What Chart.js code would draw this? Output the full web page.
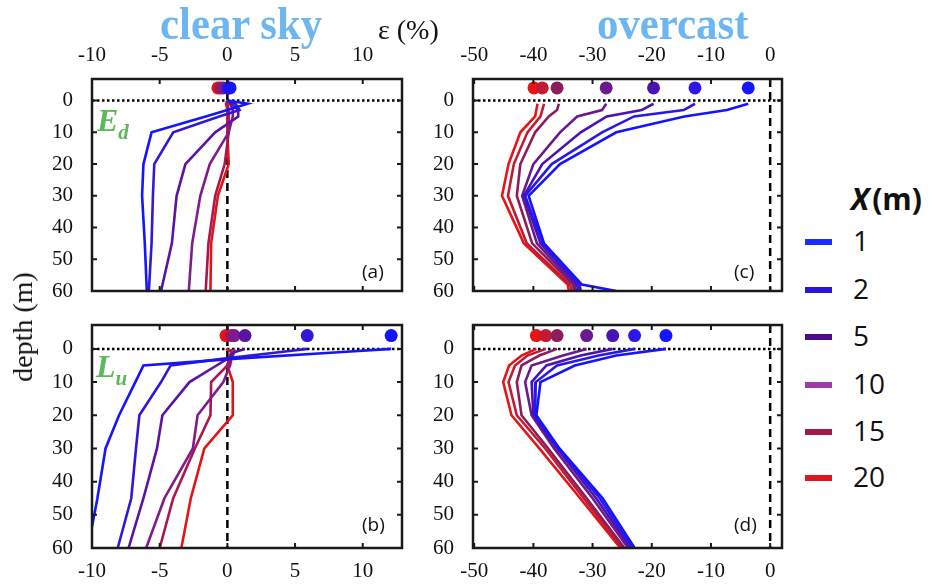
<!DOCTYPE html>
<html><head><meta charset="utf-8">
<script src="https://cdn.jsdelivr.net/npm/chart.js@4.4.0/dist/chart.umd.min.js"></script>
<style>
html,body{margin:0;padding:0;background:#fff}
body{width:933px;height:584px;position:relative;overflow:hidden}
.w{position:absolute}
.t{position:absolute;white-space:nowrap;line-height:1}
.title{font-family:"Liberation Serif",serif;font-weight:bold;font-size:42px;color:#6db6f0;transform-origin:left top;transform:scale(1.02,1.08)}
.pl{font-family:"Open Sans",sans-serif;font-size:19px;color:#111}
.q{font-family:"Liberation Serif",serif;font-style:italic;font-weight:bold;color:#5cb85c}
.leg{position:absolute;left:805px}
.sw{position:absolute;left:0;width:27px;height:6px}
.ll{position:absolute;left:48px;font-family:"Open Sans",sans-serif;font-size:28px;line-height:1;color:#111}
</style></head><body>

<div class="w" id="wa"><canvas id="ca"></canvas></div>
<div class="w" id="wb"><canvas id="cb"></canvas></div>
<div class="w" id="wc"><canvas id="cc"></canvas></div>
<div class="w" id="wd"><canvas id="cd"></canvas></div>

<div class="t title" style="left:160px;top:1px">clear sky</div>
<div class="t title" style="left:597px;top:1px">overcast</div>
<div class="t" style="left:378px;top:16px;font-family:'Liberation Serif',serif;font-size:28px;color:#111">ε (%)</div>
<div class="t" style="left:23px;top:327px;transform:translate(-50%,-50%) rotate(-90deg);font-family:'Liberation Serif',serif;font-size:28px;color:#111">depth (m)</div>
<div class="t q" style="left:97px;top:104px;font-size:32px">E<span style="font-size:21px;position:relative;top:8px">d</span></div>
<div class="t q" style="left:96px;top:350px;font-size:32px">L<span style="font-size:21px;position:relative;top:8px">u</span></div>
<div class="t pl" style="left:362px;top:262px">(a)</div>
<div class="t pl" style="left:362px;top:515px">(b)</div>
<div class="t pl" style="left:734px;top:262px">(c)</div>
<div class="t pl" style="left:734px;top:515px">(d)</div>
<div id="legend"></div>

<script>
// ---------- categories ----------
const legendLabels = ['1', '2', '5', '10', '15', '20'];
const legendColors = ['#1a2cff', '#2c14d8', '#4a0c88', '#9c3ca4', '#a01a4a', '#e0141c'];
const clearColors = ['#1414ff', '#3018d8', '#5a14a4', '#7e1c8c', '#a81850', '#e41414'];
const overcastColors = ['#1414ff', '#2c18e6', '#4a14b4', '#6a1a8c', '#8c1c5c', '#c01a34', '#e81414'];

// ---------- tick labels ----------
const depthTicks = [0, 10, 20, 30, 40, 50, 60];
const clearTicks = [-10, -5, 0, 5, 10];
const overcastTicks = [-50, -40, -30, -20, -10, 0];

// ---------- depths (m) ----------
const depthsClear = [0, 1, 3, 5, 10, 20, 30, 45, 60];
const depthsEdOvercast = [1, 3, 5, 10, 20, 30, 45, 58, 60];
const depthsLuOvercast = [0, 2, 5, 10, 20, 30, 45, 60];
const dotDepth = -4;

// ---------- (a) Ed, clear sky: epsilon (%) per X ----------
const edClearX1  = [0, 1.5, 0.0, -1.6, -5.6, -6.2, -6.3, -6.1, -5.95];
const edClearX2  = [0, 0.6, 0.9, -0.6, -4.0, -5.4, -5.5, -5.6, -5.8];
const edClearX5  = [0, 0.3, 0.8, 0.8, -0.9, -3.1, -3.75, -4.1, -4.9];
const edClearX10 = [0, 0.2, 0.4, 0.4, 0.1, -1.3, -2.0, -2.6, -2.85];
const edClearX15 = [0, 0.0, 0.1, 0.1, 0.1, -0.2, -0.9, -1.4, -1.6];
const edClearX20 = [0, -0.1, 0.0, 0.0, 0.0, 0.1, -0.7, -1.2, -1.25];
const edClearSurface = [0.2, 0.1, 0.0, -0.3, -0.5, -0.7];

// ---------- (b) Lu, clear sky ----------
const luClearX1  = [12.1, 8.2, 0.4, -6.2, -6.8, -8.0, -9.0, -9.6, -10.3];
const luClearX2  = [5.9, 3.8, -0.4, -4.2, -4.9, -6.5, -6.75, -7.1, -8.1];
const luClearX5  = [1.3, 0.5, 0.0, -0.8, -2.8, -4.8, -5.2, -6.2, -7.3];
const luClearX10 = [0.5, 0.5, 0.3, 0.2, -0.3, -2.2, -2.55, -4.65, -6.0];
const luClearX15 = [0.3, 0.3, 0.2, 0.0, -1.2, -1.25, -2.4, -4.0, -5.0];
const luClearX20 = [-0.1, 0.3, 0.1, 0.0, 0.4, 0.4, -1.7, -2.7, -3.4];
const luClearSurface = [12.1, 5.9, 1.3, 0.5, 0.3, -0.1];

// ---------- (c) Ed, overcast ----------
const edOverS1 = [-3.7, -7.3, -14.5, -26.0, -35.5, -40.8, -38.2, -31.8, -26.0];
const edOverS2 = [-12.7, -14.6, -23.0, -28.4, -36.9, -41.4, -38.4, -32.2, -32.0];
const edOverS3 = [-19.7, -21.7, -27.6, -32.0, -38.5, -41.6, -38.8, -32.6, -32.4];
const edOverS4 = [-27.7, -28.4, -32.6, -35.5, -40.0, -41.9, -39.4, -33.0, -32.8];
const edOverS5 = [-35.7, -36.0, -37.4, -39.7, -42.2, -42.8, -40.2, -33.3, -33.1];
const edOverS6 = [-38.2, -38.5, -38.8, -41.0, -43.3, -44.3, -41.1, -33.8, -33.5];
const edOverS7 = [-39.3, -39.5, -39.7, -42.2, -44.2, -45.3, -41.6, -34.2, -34.0];
const edOverSurface = [-3.7, -12.7, -19.7, -27.7, -36.0, -38.5, -39.9];

// ---------- (d) Lu, overcast ----------
const luOverS1 = [-17.6, -26.0, -33.0, -38.8, -39.5, -35.6, -28.3, -22.9];
const luOverS2 = [-22.9, -29.0, -36.0, -39.6, -39.7, -35.8, -28.8, -23.3];
const luOverS3 = [-26.6, -32.0, -37.8, -40.3, -40.0, -36.0, -29.4, -23.6];
const luOverS4 = [-31.0, -35.0, -40.3, -41.4, -40.3, -36.5, -30.0, -24.0];
const luOverS5 = [-36.0, -39.0, -42.0, -42.8, -42.0, -37.5, -31.0, -24.6];
const luOverS6 = [-37.9, -41.0, -43.1, -44.2, -42.8, -38.0, -31.5, -25.0];
const luOverS7 = [-39.5, -42.0, -44.1, -45.1, -43.7, -39.0, -32.1, -25.3];
const luOverSurface = [-17.6, -22.9, -26.6, -31.0, -36.0, -37.9, -39.5];

// ---------- drawing ----------
const frame = {
  id: 'frame',
  beforeDatasetsDraw(chart) {
    const {ctx, chartArea: a, scales: {x, y}} = chart;
    ctx.save();
    ctx.beginPath(); ctx.rect(a.left, a.top, a.width, a.height); ctx.clip();
    ctx.strokeStyle = '#000';
    ctx.lineWidth = 2.5; ctx.setLineDash([2.5, 2.5]);
    const y0 = y.getPixelForValue(0);
    ctx.beginPath(); ctx.moveTo(a.left, y0); ctx.lineTo(a.right, y0); ctx.stroke();
    ctx.lineWidth = 2.5; ctx.setLineDash([8, 5]);
    const x0 = x.getPixelForValue(0);
    ctx.beginPath(); ctx.moveTo(x0, a.top); ctx.lineTo(x0, a.bottom); ctx.stroke();
    ctx.restore();
  },
  afterDraw(chart) {
    const {ctx, chartArea: a, scales: {x, y}} = chart;
    ctx.save();
    ctx.strokeStyle = '#1a1a1a'; ctx.setLineDash([]); ctx.lineWidth = 2;
    ctx.beginPath();
    x.ticks.forEach(t => { const p = x.getPixelForValue(t.value);
      ctx.moveTo(p, a.top); ctx.lineTo(p, a.top + 5); ctx.moveTo(p, a.bottom); ctx.lineTo(p, a.bottom - 5); });
    y.ticks.forEach(t => { const p = y.getPixelForValue(t.value);
      ctx.moveTo(a.left, p); ctx.lineTo(a.left + 5, p); ctx.moveTo(a.right, p); ctx.lineTo(a.right - 5, p); });
    ctx.stroke();
    ctx.lineWidth = 2.5;
    ctx.strokeRect(a.left, a.top, a.width, a.height);
    ctx.restore();
  }
};

function panel(id, plot, isTop, xMin, xMax, xTicks, yMin, depths, series, colors, surface) {
  const leftM = 60, rightM = 20, axisH = 45, otherM = 36;
  const W = plot.r - plot.l, H = plot.b - plot.t;
  const cw = W + leftM + rightM, ch = H + axisH + otherM;
  const wrap = document.getElementById('w' + id);
  wrap.style.left = (plot.l - leftM) + 'px';
  wrap.style.top = (isTop ? plot.t - axisH : plot.t - otherM) + 'px';
  const cv = document.getElementById('c' + id);
  cv.width = cw; cv.height = ch; cv.style.width = cw + 'px'; cv.style.height = ch + 'px';

  const dotIdx = surface.map((v, i) => i).reverse();
  const datasets = [{
    data: dotIdx.map(i => ({x: surface[i], y: dotDepth})),
    showLine: false, pointRadius: 6.5, pointBorderWidth: 0,
    pointBackgroundColor: dotIdx.map(i => colors[i]), pointBorderColor: dotIdx.map(i => colors[i])
  }].concat(series.map((vals, i) => ({
    data: depths.map((d, j) => ({x: vals[j], y: d})),
    showLine: true, borderColor: colors[i], borderWidth: 2.6, pointRadius: 0, tension: 0, fill: false
  })));

  const tickFont = {family: 'Liberation Serif', size: 21};
  new Chart(cv, {
    type: 'scatter',
    data: {datasets},
    plugins: [frame],
    options: {
      responsive: false, animation: false, devicePixelRatio: 1,
      layout: {padding: isTop ? {left: 0, right: rightM, top: 0, bottom: otherM} : {left: 0, right: rightM, top: otherM, bottom: 0}},
      plugins: {legend: {display: false}, tooltip: {enabled: false}},
      scales: {
        x: {
          type: 'linear', position: isTop ? 'top' : 'bottom', min: xMin, max: xMax,
          afterBuildTicks: s => { s.ticks = xTicks.map(v => ({value: v})); },
          afterFit: s => { s.height = axisH; },
          ticks: {font: tickFont, color: '#111', padding: 11, maxRotation: 0, autoSkip: false, callback: v => String(v)},
          grid: {display: false, drawTicks: false}, border: {display: false}
        },
        y: {
          type: 'linear', reverse: true, min: yMin, max: 60,
          afterBuildTicks: s => { s.ticks = depthTicks.map(v => ({value: v})); },
          afterFit: s => { s.width = leftM; },
          ticks: {font: tickFont, color: '#111', padding: 19, autoSkip: false, callback: v => String(v)},
          grid: {display: false, drawTicks: false}, border: {display: false}
        }
      }
    }
  });
}

panel('a', {l: 92, r: 402, t: 79, b: 291}, true, -10, 12.9, clearTicks, -6.8, depthsClear,
  [edClearX1, edClearX2, edClearX5, edClearX10, edClearX15, edClearX20], clearColors, edClearSurface);
panel('b', {l: 92, r: 402, t: 325, b: 548}, false, -10, 12.9, clearTicks, -7.2, depthsClear,
  [luClearX1, luClearX2, luClearX5, luClearX10, luClearX15, luClearX20], clearColors, luClearSurface);
panel('c', {l: 473, r: 782, t: 79, b: 291}, true, -50.2, 2, overcastTicks, -6.8, depthsEdOvercast,
  [edOverS1, edOverS2, edOverS3, edOverS4, edOverS5, edOverS6, edOverS7], overcastColors, edOverSurface);
panel('d', {l: 473, r: 782, t: 325, b: 548}, false, -50.2, 2, overcastTicks, -7.2, depthsLuOvercast,
  [luOverS1, luOverS2, luOverS3, luOverS4, luOverS5, luOverS6, luOverS7], overcastColors, luOverSurface);

// legend (HTML)
const lg = document.getElementById('legend');
let html = '<div class="t" style="left:851px;top:184px;font-family:\'Open Sans\',sans-serif;font-weight:bold;font-size:30px;color:#111"><i>X</i><span style="margin-left:3px">(m)</span></div>';
const legY = [242, 290, 337, 385, 432, 478];
legendLabels.forEach((lab, i) => {
  html += '<div class="leg" style="top:' + (legY[i] - 3) + 'px"><div class="sw" style="background:' + legendColors[i] + '"></div>' +
          '<div class="ll" style="top:-13px">' + lab + '</div></div>';
});
lg.innerHTML = html;
</script>
</body></html>
